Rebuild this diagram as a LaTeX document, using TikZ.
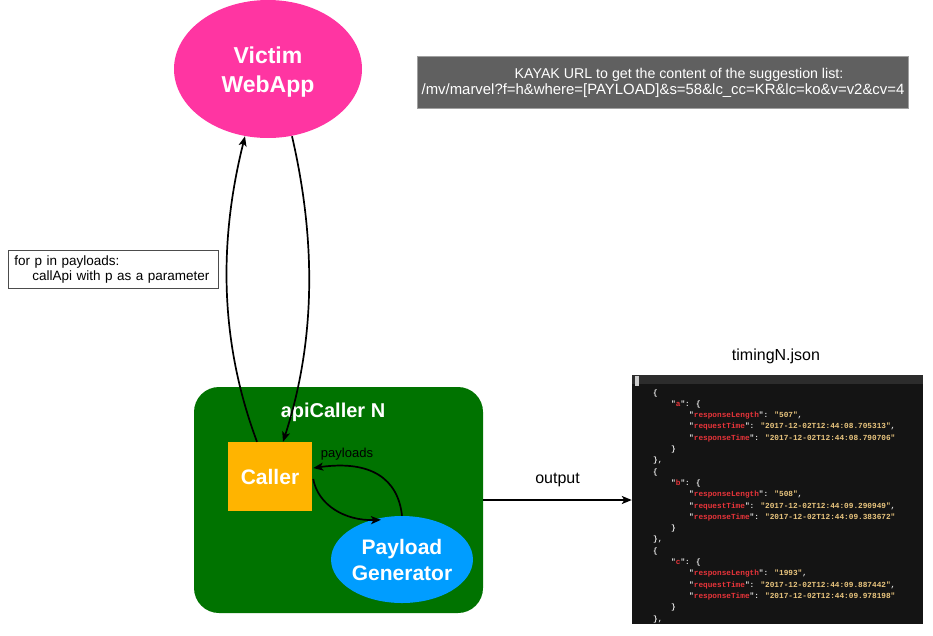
\documentclass[tikz,border=0pt]{standalone}
\usepackage{fontspec}
\setmainfont{Liberation Sans}
\newfontfamily\jsonfont{Liberation Mono}
\usetikzlibrary{arrows.meta,calc,shapes.geometric}
\definecolor{vpink}{HTML}{FF35A2}
\definecolor{ggreen}{HTML}{007300}
\definecolor{corange}{HTML}{FFB400}
\definecolor{pblue}{HTML}{009DFF}
\definecolor{ugrey}{HTML}{606060}
\definecolor{ugreyb}{HTML}{A0A0A0}
\definecolor{jbg}{HTML}{141414}
\definecolor{jbar}{HTML}{2C2C2C}
\definecolor{jred}{HTML}{E8343A}
\definecolor{jtan}{HTML}{E9C57E}
\definecolor{jwhite}{HTML}{E4E4E4}
\newcommand\jk[1]{\textcolor{jwhite}{"}\textcolor{jred}{#1}\textcolor{jwhite}{"}}
\newcommand\jv[1]{\textcolor{jtan}{"#1"}}
\tikzset{
  conn/.style={line width=1.7pt,-{Stealth[length=10pt,width=8pt,inset=2.5pt]}},
  bigtxt/.style={text=white,font=\fontsize{21}{26}\selectfont\bfseries,align=center},
  jl/.style={anchor=west,inner sep=0pt,text=jwhite,font=\jsonfont\bfseries\fontsize{7.75}{10}\selectfont},
}
\begin{document}
\begin{tikzpicture}[x=1pt,y=-1pt]
\useasboundingbox (0,0) rectangle (933,635);
% victim
\node[ellipse,fill=vpink,minimum width=188,minimum height=138] (victim) at (268,69) {};
\node[bigtxt,font=\fontsize{23}{29}\selectfont\bfseries] (victimtxt) at (268,72.5) {Victim\\WebApp};
% url box
\node[draw=ugreyb,line width=1pt,fill=ugrey,text=white,minimum width=491,minimum height=52,
  align=center,font=\fontsize{14.2}{16}\selectfont,inner sep=0pt] (url) at (663,82.5)
  {\hspace*{32pt}KAYAK URL to get the content of the suggestion list:\\{\fontsize{14.9}{16}\selectfont /mv/marvel?f=h\&where=[PAYLOAD]\&s=58\&lc\_cc=KR\&lc=ko\&v=v2\&cv=4}};
% note box
\node[draw=black!70,line width=0.6pt,anchor=north west,text width=198pt,inner xsep=6pt,
  minimum height=38,align=left,font=\fontsize{13.5}{15}\selectfont] (note) at (8,250)
  {for p in payloads:\\\hspace*{18pt}callApi with p as a parameter};
% api caller box
\node[fill=ggreen,rounded corners=25pt,minimum width=289,minimum height=226] (api) at (338.5,500) {};
\node[text=white,font=\fontsize{20}{24}\selectfont\bfseries] (apititle) at (333,412) {apiCaller N};
\node[fill=corange,minimum width=84,minimum height=69,bigtxt] (caller) at (270,476.5) {Caller};
\node[ellipse,fill=pblue,minimum width=138,minimum height=87,bigtxt,inner sep=0pt] (gen) at (402,559.5) {Payload\\Generator};
\node[font=\fontsize{13}{15}\selectfont] (plabel) at (347,454) {payloads};
% json
\node[fill=jbg,minimum width=291,minimum height=249,inner sep=0pt] (json) at (777.5,499.5) {};
\fill[jbar] (json.north west) rectangle ($(json.north east)+(0,9)$);
\fill[black!20] ($(json.north west)+(3,1)$) rectangle ($(json.north west)+(7,11)$);
\node[font=\fontsize{16}{19}\selectfont] (jtitle) at (776,356) {timingN.json};
\node[jl] (j0) at (653,393.0) {\{};
\node[jl] (j1) at (671,404.3) {\jk{a}: \{};
\node[jl] (j2) at (689,415.6) {\jk{responseLength}: \jv{507},};
\node[jl] (j3) at (689,426.9) {\jk{requestTime}: \jv{2017-12-02T12:44:08.705313},};
\node[jl] (j4) at (689,438.2) {\jk{responseTime}: \jv{2017-12-02T12:44:08.790706}};
\node[jl] (j5) at (671,449.5) {\}};
\node[jl] (j6) at (653,460.8) {\},};
\node[jl] (j7) at (653,472.1) {\{};
\node[jl] (j8) at (671,483.4) {\jk{b}: \{};
\node[jl] (j9) at (689,494.7) {\jk{responseLength}: \jv{508},};
\node[jl] (j10) at (689,506.0) {\jk{requestTime}: \jv{2017-12-02T12:44:09.290949},};
\node[jl] (j11) at (689,517.3) {\jk{responseTime}: \jv{2017-12-02T12:44:09.383672}};
\node[jl] (j12) at (671,528.6) {\}};
\node[jl] (j13) at (653,539.9) {\},};
\node[jl] (j14) at (653,551.2) {\{};
\node[jl] (j15) at (671,562.5) {\jk{c}: \{};
\node[jl] (j16) at (689,573.8) {\jk{responseLength}: \jv{1993},};
\node[jl] (j17) at (689,585.1) {\jk{requestTime}: \jv{2017-12-02T12:44:09.887442},};
\node[jl] (j18) at (689,596.4) {\jk{responseTime}: \jv{2017-12-02T12:44:09.978198}};
\node[jl] (j19) at (671,607.7) {\}};
\node[jl] (j20) at (653,619.0) {\},};
% connectors
\draw[conn] ($(caller.north)+(-13,0)$) .. controls (219,340) and (219,240) .. ($(victim.south)+(-23,-2)$);
\draw[conn] ($(victim.south)+(24,-2)$) .. controls (316,240) and (316,340) .. ($(caller.north)+(13,0)$);
\draw[conn] ($(caller.east)+(1,2.5)$) .. controls (318,505) and (345,521) .. ($(gen.north)+(-21,4)$);
\draw[conn] (gen.north) .. controls (398,478) and (370,460) .. ($(caller.east)+(1,-8.5)$);
\draw[conn] (api.east) -- (api.east -| json.west) node[midway,above=9pt,font=\fontsize{16}{19}\selectfont,text=black] (outl) {output};
\end{tikzpicture}
\end{document}
